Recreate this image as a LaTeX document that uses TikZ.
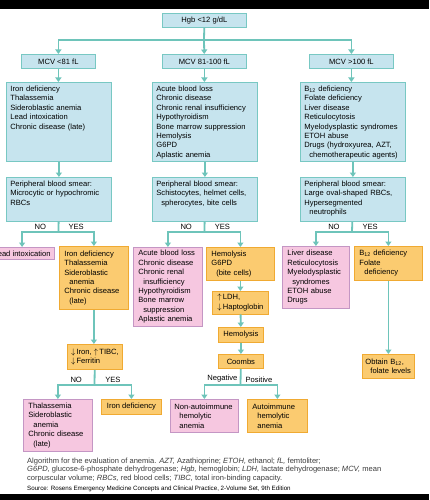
\documentclass[tikz,border=0pt]{standalone}
\usepackage{fontspec}
\setmainfont{Liberation Sans}
\usepackage{xcolor}
\usepackage{tikz}
\usetikzlibrary{arrows.meta, positioning}
\definecolor{boxblue}{RGB}{198,228,238}
\definecolor{boxline}{RGB}{120,200,195}
\definecolor{yesfill}{RGB}{251,203,112}
\definecolor{yesline}{RGB}{240,170,50}
\definecolor{nofill}{RGB}{246,199,224}
\definecolor{noline}{RGB}{196,150,196}
\definecolor{linkcol}{RGB}{110,196,186}
\definecolor{captext}{RGB}{60,60,60}
\newcommand{\boxfont}{\fontsize{7.6pt}{9.4pt}\selectfont}
\newcommand{\contln}{\hspace*{5pt}}
\tikzstyle{bluebox} = [rectangle, draw=boxline, fill=boxblue, line width=0.8pt, font=\boxfont, inner xsep=4pt, inner ysep=3pt, align=left, anchor=north west]
\tikzstyle{mcvbox} = [bluebox, align=center, minimum height=14pt]
\tikzstyle{listbox} = [bluebox, text width=97pt, text height=6pt, text depth=67pt]
\tikzstyle{smearbox} = [bluebox, text width=97pt, text height=6pt, text depth=32pt]
\tikzstyle{yesbox} = [rectangle, draw=yesline, fill=yesfill, line width=0.8pt, font=\boxfont, inner xsep=5pt, inner ysep=3pt, align=left, anchor=north west]
\tikzstyle{nobox} = [yesbox, draw=noline, fill=nofill]
\tikzstyle{link} = [draw=linkcol, line width=1.8pt]
\tikzstyle{arrow} = [link, -{Triangle[length=4.5pt,width=6pt]}]
\tikzstyle{lbl} = [font=\boxfont, inner sep=2pt]

\begin{document}
\begin{tikzpicture}[x=1pt, y=-1pt]
    \fill[white] (0,0) rectangle (429,500);
    \useasboundingbox (0,0) rectangle (429,500);
    \fill[black] (0,0) rectangle (429,9);
    \fill[black] (0,494) rectangle (429,500);

    % top and MCV split
    \node[mcvbox, minimum width=84pt] (hgb) at (162,13) {Hgb <12 g/dL};
    \node[mcvbox, minimum width=74pt] (mcvlow) at (21,54) {MCV <81 fL};
    \node[mcvbox, minimum width=84pt] (mcvnorm) at (162,54) {MCV 81-100 fL};
    \node[mcvbox, minimum width=84pt] (mcvhigh) at (309,54) {MCV >100 fL};

    \node[listbox] (listlow) at (6,82) {Iron deficiency\\Thalassemia\\Sideroblastic anemia\\Lead intoxication\\Chronic disease (late)};
    \node[listbox] (listnorm) at (152,82) {Acute blood loss\\Chronic disease\\Chronic renal insufficiency\\Hypothyroidism\\Bone marrow suppression\\Hemolysis\\G6PD\\Aplastic anemia};
    \node[listbox] (listhigh) at (300,82) {B\textsubscript{12} deficiency\\Folate deficiency\\Liver disease\\Reticulocytosis\\Myelodysplastic syndromes\\ETOH abuse\\Drugs (hydroxyurea, AZT,\\\contln chemotherapeutic agents)};

    \node[smearbox] (smearlow) at (6,177) {Peripheral blood smear:\\Microcytic or hypochromic\\RBCs};
    \node[smearbox] (smearnorm) at (152,177) {Peripheral blood smear:\\Schistocytes, helmet cells,\\\contln spherocytes, bite cells};
    \node[smearbox] (smearhigh) at (300,177) {Peripheral blood smear:\\Large oval-shaped RBCs,\\Hypersegmented\\\contln neutrophils};

    % microcytic branch
    \node[nobox, inner xsep=4pt, anchor=north east, minimum height=12pt] (lead) at (55,247) {Lead intoxication};
    \node[yesbox, text width=59pt, minimum height=63pt] (ironyes) at (59,246) {Iron deficiency\\Thalassemia\\Sideroblastic\\\contln anemia\\Chronic disease\\\contln (late)};
    \node[yesbox, inner xsep=3pt, minimum width=55pt, minimum height=25pt] (ironlab) at (67,344) {$\downarrow$\,Iron, $\uparrow$\,TIBC,\\$\downarrow$\,Ferritin};
    \node[nobox, text width=59pt, minimum height=52pt] (thal) at (23,399) {Thalassemia\\Sideroblastic\\\contln anemia\\Chronic disease\\\contln (late)};
    \node[yesbox, align=center, minimum width=60pt, minimum height=15pt] (irondef) at (101,399) {Iron deficiency};

    % normocytic branch
    \node[nobox, text width=59pt, minimum height=79pt] (nonorm) at (133,247) {Acute blood loss\\Chronic disease\\Chronic renal\\\contln insufficiency\\Hypothyroidism\\Bone marrow\\\contln suppression\\Aplastic anemia};
    \node[yesbox, text width=58pt, minimum height=33pt] (hemo) at (206,247) {Hemolysis\\G6PD\\\contln (bite cells)};
    \node[yesbox, inner xsep=3pt, minimum width=56pt, minimum height=22pt] (ldh) at (212,291) {$\uparrow$\,LDH,\\$\downarrow$\,Haptoglobin};
    \node[yesbox, align=center, minimum width=45pt, minimum height=15pt] (hemotwo) at (218,327) {Hemolysis};
    \node[yesbox, align=center, minimum width=45pt, minimum height=14pt] (coombs) at (218,354) {Coombs};
    \node[nobox, inner xsep=4pt, text width=60pt, minimum height=33pt] (nonauto) at (170,399) {Non-autoimmune\\\contln hemolytic\\\contln anemia};
    \node[yesbox, text width=50pt, minimum height=33pt] (auto) at (247,399) {Autoimmune\\\contln hemolytic\\\contln anemia};

    % macrocytic branch
    \node[nobox, text width=57pt, minimum height=62pt] (nohigh) at (282,246) {Liver disease\\Reticulocytosis\\Myelodysplastic\\\contln syndromes\\ETOH abuse\\Drugs};
    \node[yesbox, text width=58pt, minimum height=34pt] (yeshigh) at (354,246) {B\textsubscript{12} deficiency\\Folate\\\contln deficiency};
    \node[yesbox, inner xsep=3pt, text width=46pt, minimum height=24pt] (obtain) at (362,354) {Obtain B\textsubscript{12},\\\contln folate levels};

    % split points
    \coordinate (hsplit) at (204,40);
    \coordinate (lsplit) at (58.5,232);
    \coordinate (nsplit) at (204.5,232);
    \coordinate (rsplit) at (352,232);
    \coordinate (isplit) at (94.5,385);
    \coordinate (csplit) at (240.5,385);

    \draw[link] (hgb) -- (hsplit);
    \draw[arrow] (hsplit) -| (mcvlow);
    \draw[arrow] (hsplit) -- (mcvnorm);
    \draw[arrow] (hsplit) -| (mcvhigh);

    \draw[arrow] (mcvlow) -- (mcvlow |- listlow.north);
    \draw[arrow] (mcvnorm) -- (mcvnorm |- listnorm.north);
    \draw[arrow] (mcvhigh) -- (mcvhigh |- listhigh.north);
    \draw[arrow] (listlow) -- (smearlow);
    \draw[arrow] (listnorm) -- (smearnorm);
    \draw[arrow] (listhigh) -- (smearhigh);

    \draw[link] (smearlow) -- (lsplit);
    \draw[arrow] (lsplit) -| node[lbl, pos=0.25, above] {NO} (lead);
    \draw[arrow] (lsplit) -| node[lbl, pos=0.25, above] {YES} (ironyes);
    \draw[arrow] (ironyes) -- (ironyes |- ironlab.north);
    \draw[link] (ironlab) -- (isplit);
    \draw[arrow] (isplit) -| node[lbl, pos=0.25, above] {NO} (thal);
    \draw[arrow] (isplit) -| node[lbl, pos=0.25, above] {YES} (irondef);

    \draw[link] (smearnorm) -- (nsplit);
    \draw[arrow] (nsplit) -| node[lbl, pos=0.25, above] {NO} (nonorm);
    \draw[arrow] (nsplit) -| node[lbl, pos=0.25, above] {YES} (hemo);
    \draw[arrow] (hemo) -- (ldh);
    \draw[arrow] (ldh) -- (hemotwo);
    \draw[arrow] (hemotwo) -- (coombs);
    \draw[link] (coombs) -- (csplit);
    \draw[arrow] (csplit) -| node[lbl, pos=0.25, above] {Negative} (nonauto);
    \draw[arrow] (csplit) -| node[lbl, pos=0.25, above] {Positive} (auto);

    \draw[link] (smearhigh) -- (rsplit);
    \draw[arrow] (rsplit) -| node[lbl, pos=0.25, above] {NO} (nohigh);
    \draw[arrow] (rsplit) -| node[lbl, pos=0.25, above] {YES} (yeshigh);
    \draw[arrow] (yeshigh) -- (obtain);

    % caption
    \node[anchor=north west, inner sep=0pt, align=left, text=captext, font=\fontsize{7.55pt}{8.7pt}\selectfont] (caption) at (27,457.5) {Algorithm for the evaluation of anemia. \textit{AZT,} Azathioprine; \textit{ETOH,} ethanol; \textit{fL,} femtoliter;\\\textit{G6PD,} glucose-6-phosphate dehydrogenase; \textit{Hgb,} hemoglobin; \textit{LDH,} lactate dehydrogenase; \textit{MCV,} mean\\corpuscular volume; \textit{RBCs,} red blood cells; \textit{TIBC,} total iron-binding capacity.};
    \node[anchor=base west, inner sep=0pt, font=\fontsize{6.2pt}{7pt}\selectfont] (source) at (27,490) {Source: Rosens Emergency Medicine Concepts and Clinical Practice, 2-Volume Set, 9th Edition};
\end{tikzpicture}
\end{document}
